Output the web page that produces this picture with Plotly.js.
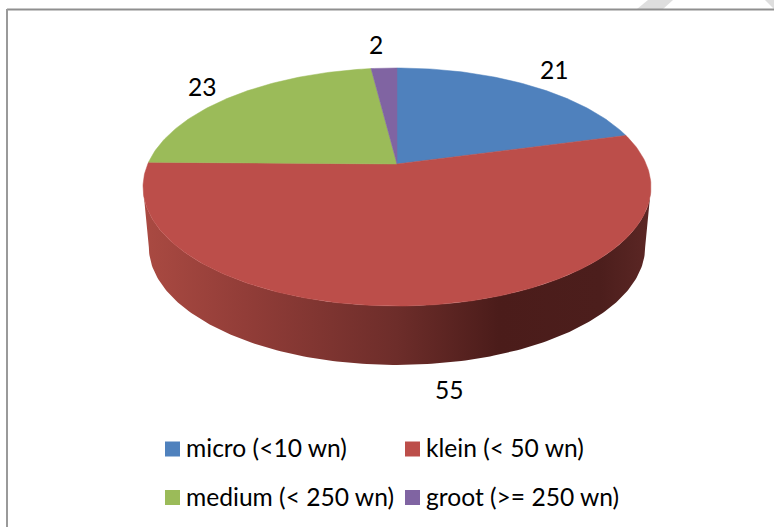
<!DOCTYPE html>
<html><head><meta charset="utf-8">
<script src="https://cdn.plot.ly/plotly-3.0.1.min.js"></script>
<style>html,body{margin:0;padding:0;background:#fff;overflow:hidden}</style>
</head><body><div id="chart" style="width:774px;height:527px"></div>
<script>
const categories = ["micro (<10 wn)", "klein (< 50 wn)", "medium (< 250 wn)", "groot (>= 250 wn)"];
const values = [21, 55, 23, 2];
const sliceColors = ["#4f81bd", "#bc4e4a", "#9bbb59", "#8064a2"];
const labelX = [554, 449, 202, 376];
const labelY = [69, 389, 86, 44];
const legendX = [165, 405, 165, 405];
const legendY = [449, 449, 497.5, 497.5];

// Perspective disc geometry
const apexX = 397, apexY = 164, A = 249.2, B = 114.6, K = 0.1933;
const depth = 60, shrink = 0.977, bottomRy = 118;
const total = values.reduce((a, b) => a + b, 0);

function proj(theta) {
  const u = Math.sin(theta), v = Math.cos(theta), w = 1 + K * v;
  return [apexX + A * u / w, apexY - B * v / w];
}
const traces = [];

// side wall (gradient)
const rimCx = apexX, rimCy = 187, rimRx = 254, rimRy = 119;
const sx = [], sy = [];
for (let i = 0; i <= 180; i++) {
  const p = Math.PI - i * Math.PI / 180;
  sx.push(rimCx + rimRx * Math.cos(p)); sy.push(rimCy + rimRy * Math.sin(p));
}
for (let i = 180; i >= 0; i--) {
  const p = Math.PI - i * Math.PI / 180;
  sx.push(rimCx + rimRx * shrink * Math.cos(p)); sy.push(rimCy + depth + bottomRy * Math.sin(p));
}
traces.push({
  type: "scatter", mode: "lines", x: sx, y: sy, fill: "toself", hoverinfo: "skip", showlegend: false,
  line: {width: 0, color: "rgba(0,0,0,0)"},
  fillgradient: {type: "horizontal", colorscale: [
    [0, "#aa4a42"], [0.2, "#923d38"], [0.5, "#6d2d2a"], [0.7, "#4b1c1a"], [0.9, "#4c1e1c"], [1, "#5c2725"]
  ]}
});

// top face slices
let cum = 0;
values.forEach((val, i) => {
  const a0 = cum / total * 2 * Math.PI; cum += val;
  const a1 = cum / total * 2 * Math.PI;
  const xs = [apexX], ys = [apexY];
  const n = Math.max(4, Math.round(val * 4));
  for (let j = 0; j <= n; j++) {
    const p = proj(a0 + (a1 - a0) * j / n);
    xs.push(p[0]); ys.push(p[1]);
  }
  xs.push(apexX); ys.push(apexY);
  traces.push({type: "scatter", mode: "lines", x: xs, y: ys, fill: "toself", fillcolor: sliceColors[i],
    line: {width: 0.5, color: sliceColors[i]}, hoverinfo: "skip", showlegend: false, name: categories[i]});
});

// legend keys
traces.push({type: "scatter", mode: "markers", x: legendX.map(v => v + 7.5), y: legendY, hoverinfo: "skip", showlegend: false,
  marker: {symbol: "square", size: 15, color: sliceColors, line: {width: 0}}});

const font = {family: "Lato, 'Noto Sans', sans-serif", size: 24.6, color: "#000"};
const annotations = [];
values.forEach((v, i) => annotations.push({x: labelX[i], y: labelY[i], xref: "x", yref: "y", text: String(v),
  showarrow: false, font, xanchor: "center", yanchor: "middle"}));
categories.forEach((c, i) => annotations.push({x: legendX[i] + 19, y: legendY[i] - 1.5, xref: "x", yref: "y",
  text: c.replace(/</g, "&lt;").replace(/>/g, "&gt;"), showarrow: false, font, xanchor: "left", yanchor: "middle"}));

const shapes = [
  {type: "path", path: "M637,9 L663,9 L673,0 L648,0 Z", fillcolor: "#dedede", line: {width: 0}, layer: "below"},
  {type: "path", path: "M765,0 L774,9 L774,0 Z", fillcolor: "#dedede", line: {width: 0}, layer: "below"},
  {type: "line", x0: 7, x1: 774, y0: 9.5, y1: 9.5, line: {color: "#8f8f8f", width: 2}, layer: "below"},
  {type: "line", x0: 7, x1: 7, y0: 9, y1: 527, line: {color: "#9a9a9a", width: 2}, layer: "below"}
];

Plotly.newPlot("chart", traces, {
  width: 774, height: 527, margin: {l: 0, r: 0, t: 0, b: 0},
  paper_bgcolor: "#fff", plot_bgcolor: "#fff", showlegend: false,
  xaxis: {range: [0, 774], visible: false, fixedrange: true},
  yaxis: {range: [527, 0], visible: false, fixedrange: true},
  annotations, shapes
}, {displayModeBar: false, staticPlot: true});
</script></body></html>
